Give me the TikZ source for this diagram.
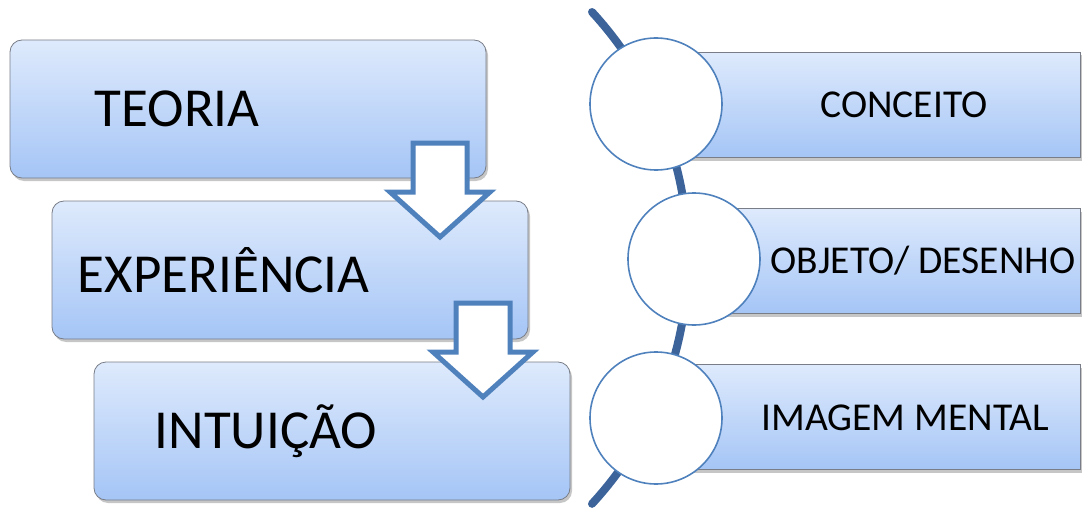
\documentclass[tikz,border=0pt]{standalone}
\usepackage{fontspec}
\setmainfont{Carlito}
\usetikzlibrary{positioning,shadows}

\definecolor{boxtop}{RGB}{222,234,252}
\definecolor{boxbot}{RGB}{165,197,246}
\definecolor{boxline}{RGB}{120,125,135}
\definecolor{accent}{RGB}{79,129,189}
\definecolor{spinecol}{RGB}{60,100,155}

\tikzset{
  stepbox/.style={rectangle, rounded corners=12pt, draw=boxline, line width=0.8pt,
    top color=boxtop, bottom color=boxbot, minimum width=476pt, minimum height=138pt,
    drop shadow={shadow xshift=2pt, shadow yshift=-3pt, opacity=0.45}},
  sidebox/.style={rectangle, draw=boxline, line width=0.8pt,
    top color=boxtop, bottom color=boxbot, minimum height=105pt,
    drop shadow={shadow xshift=2pt, shadow yshift=-3pt, opacity=0.45}},
  ring/.style={circle, draw=accent, line width=1.6pt, fill=white, minimum size=132pt},
  bigtext/.style={inner sep=0pt, font=\fontsize{55}{60}\selectfont},
  smalltext/.style={inner sep=0pt, font=\fontsize{39.5}{44}\selectfont},
  downarrow/.pic={
    \draw[accent, line width=5pt, fill=white, line join=miter]
      (-27,0) -- (27,0) -- (27,-49) -- (50,-49) -- (0,-94) -- (-50,-49) -- (-27,-49) -- cycle;
  }
}

\begin{document}
\begin{tikzpicture}[x=1pt,y=1pt]
\useasboundingbox (0,0) rectangle (1088,-511);

% left column
\node[stepbox] (teoria) at (248,-109) {};
\node[stepbox] (exper) at (290,-270) {};
\node[stepbox] (intui) at (332,-431) {};

\node[bigtext, anchor=west, right=85pt of teoria.west] {TEORIA};
\node[bigtext, anchor=west, right=26pt of exper.west] {EXPERIÊNCIA};
\node[bigtext, anchor=west, right=61pt of intui.west] {INTUIÇÃO};

\pic at (440,-143) {downarrow};
\pic at (483,-303) {downarrow};

% right column
\draw[spinecol, line width=8pt, line cap=round]
  (592,-12) arc[start angle=42.65, end angle=-42.65, radius=363pt];

\node[sidebox, minimum width=424pt] (conc) at (868,-105) {};
\node[sidebox, minimum width=386pt] (obj) at (887,-261) {};
\node[sidebox, minimum width=424pt] (imag) at (868,-417) {};

\node[smalltext] at (904,-105) {CONCEITO};
\node[smalltext] at (923,-261) {OBJETO/ DESENHO};
\node[smalltext] at (905,-418) {IMAGEM MENTAL};

\node[ring] (c1) at (656,-104) {};
\node[ring] (c2) at (694,-259) {};
\node[ring] (c3) at (656,-418) {};
\end{tikzpicture}
\end{document}
